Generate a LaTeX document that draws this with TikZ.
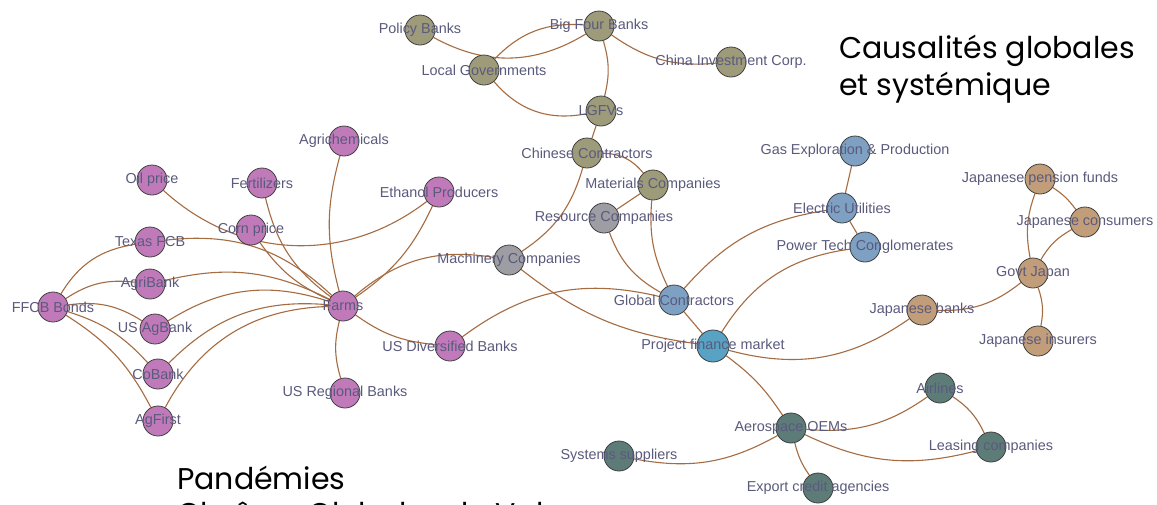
\documentclass[tikz,border=0pt]{standalone}
\usepackage{fontspec}
\newfontfamily\labelfont{Liberation Sans}
\newfontfamily\titlefont{Poppins}
\usetikzlibrary{backgrounds}
\definecolor{nwpurple}{RGB}{192,122,186}
\definecolor{nwolive}{RGB}{158,155,122}
\definecolor{nwgray}{RGB}{158,157,163}
\definecolor{nwsteel}{RGB}{126,160,195}
\definecolor{nwsky}{RGB}{88,163,196}
\definecolor{nwtan}{RGB}{194,157,122}
\definecolor{nwteal}{RGB}{93,124,120}
\definecolor{nwedge}{RGB}{165,108,66}
\definecolor{nwtext}{RGB}{90,90,125}
\tikzstyle{vertex} = [circle, draw=black!75, line width=0.8pt, minimum size=30pt, inner sep=0pt]
\tikzstyle{agri} = [vertex, fill=nwpurple]
\tikzstyle{china} = [vertex, fill=nwolive]
\tikzstyle{machine} = [vertex, fill=nwgray]
\tikzstyle{energy} = [vertex, fill=nwsteel]
\tikzstyle{japan} = [vertex, fill=nwtan]
\tikzstyle{aero} = [vertex, fill=nwteal]
\tikzstyle{link} = [draw=nwedge, line width=1.1pt]
\tikzstyle{heading} = [anchor=base west, inner sep=0pt, font=\titlefont\fontsize{30}{36}\selectfont]

\begin{document}
\begin{tikzpicture}[x=1pt, y=-1pt, every label/.style={text=nwtext, font=\labelfont\fontsize{14.4}{16}\selectfont}]
\useasboundingbox (0,0) rectangle (1157,504);
\clip (0,0) rectangle (1157,504);

% Nodes - China
\node (policy) [china, label=center:Policy Banks] at (420,30) {};
\node (bigfour) [china, label=center:Big Four Banks] at (599,26) {};
\node (localgov) [china, label=center:Local Governments] at (484,70) {};
\node (cic) [china, label=center:China Investment Corp.] at (731,62) {};
\node (lgfv) [china, label=center:LGFVs] at (601,111) {};
\node (chcontr) [china, label=center:Chinese Contractors] at (587,153) {};
\node (materials) [china, label=center:Materials Companies] at (653,185) {};
\node (resource) [machine, label=center:Resource Companies] at (604,218) {};
\node (machinery) [machine, label=center:Machinery Companies] at (509,260) {};

% Nodes - energy and project finance
\node (global) [energy, label=center:Global Contractors] at (674,300) {};
\node (projfin) [vertex, fill=nwsky, minimum size=32pt, label=center:Project finance market] at (713,346) {};
\node (gas) [energy, label=center:Gas Exploration \& Production] at (855,151) {};
\node (electric) [energy, label=center:Electric Utilities] at (842,208) {};
\node (powertech) [energy, label=center:Power Tech Conglomerates] at (865,247) {};

% Nodes - Japan
\node (pension) [japan, label=center:Japanese pension funds] at (1040,179) {};
\node (consumers) [japan, label=center:Japanese consumers] at (1085,222) {};
\node (govtjp) [japan, label=center:Govt Japan] at (1033,273) {};
\node (jpbanks) [japan, label=center:Japanese banks] at (922,310) {};
\node (insurers) [japan, label=center:Japanese insurers] at (1038,341) {};

% Nodes - aerospace
\node (airlines) [aero, label=center:Airlines] at (940,388) {};
\node (oems) [aero, label=center:Aerospace OEMs] at (791,428) {};
\node (leasing) [aero, label=center:Leasing companies] at (991,447) {};
\node (systems) [aero, label=center:Systems suppliers] at (619,456) {};
\node (export) [aero, label=center:Export credit agencies] at (818,488) {};

% Nodes - agriculture
\node (oil) [agri, label=center:Oil price] at (152,180) {};
\node (fert) [agri, label=center:Fertilizers] at (262,183) {};
\node (agrichem) [agri, label=center:Agrichemicals] at (344,141) {};
\node (ethanol) [agri, label=center:Ethanol Producers] at (439,192) {};
\node (corn) [agri, label=center:Corn price] at (251,230) {};
\node (texas) [agri, label=center:Texas FCB] at (150,242) {};
\node (agribank) [agri, label=center:AgriBank] at (150,284) {};
\node (ffcb) [agri, label=center:FFCB Bonds] at (53,307) {};
\node (usag) [agri, label=center:US AgBank] at (155,329) {};
\node (cobank) [agri, label=center:CoBank] at (158,374) {};
\node (agfirst) [agri, label=center:AgFirst] at (158,421) {};
\node (farms) [agri, label=center:Farms] at (343,306) {};
\node (usdiv) [agri, label=center:US Diversified Banks] at (450,346) {};
\node (usreg) [agri, label=center:US Regional Banks] at (345,393) {};

% Titles
\node (title1) [heading] at (839,58) {Causalités globales};
\node (title2) [heading] at (839,95) {et systémique};
\node (pand1) [heading] at (177,489) {Pandémies};
\node (pand2) [heading] at (177,524) {Chaînes Globales de Valeur};

% Links
\begin{scope}[on background layer]
\fill[white] (0,0) rectangle (1157,504);
\draw[link] (policy) to[bend right=30] (bigfour);
\draw[link] (localgov) to[bend left=25] (bigfour);
\draw[link] (localgov) to[bend right=30] (lgfv);
\draw[link] (bigfour) to[bend left=15] (lgfv);
\draw[link] (bigfour) to[bend right=20] (cic);
\draw[link] (lgfv) -- (chcontr);
\draw[link] (chcontr) to[bend left=25] (materials);
\draw[link] (chcontr) to[bend left=20] (machinery);
\draw[link] (materials) -- (resource);
\draw[link] (materials) to[bend right=15] (global);
\draw[link] (resource) to[bend right=20] (global);
\draw[link] (machinery) to[bend right=25] (farms);
\draw[link] (machinery) to[bend right=15] (projfin);
\draw[link] (usdiv) to[bend left=25] (global);
\draw[link] (global) to[bend left=20] (electric);
\draw[link] (global) -- (projfin);
\draw[link] (projfin) to[bend left=25] (powertech);
\draw[link] (projfin) to[bend right=25] (jpbanks);
\draw[link] (projfin) to[bend left=10] (oems);
\draw[link] (gas) -- (electric);
\draw[link] (electric) -- (powertech);
\draw[link] (jpbanks) to[bend right=20] (govtjp);
\draw[link] (govtjp) to[bend left=15] (pension);
\draw[link] (govtjp) to[bend left=15] (consumers);
\draw[link] (pension) to[bend left=10] (consumers);
\draw[link] (govtjp) to[bend left=15] (insurers);
\draw[link] (oems) to[bend right=20] (airlines);
\draw[link] (oems) to[bend right=20] (leasing);
\draw[link] (airlines) to[bend left=15] (leasing);
\draw[link] (oems) to[bend left=20] (systems);
\draw[link] (oems) to[bend right=10] (export);
\draw[link] (oil) to[bend right=40] (ethanol);
\draw[link] (fert) to[bend right=20] (farms);
\draw[link] (agrichem) to[bend right=15] (farms);
\draw[link] (ethanol) to[bend left=15] (farms);
\draw[link] (corn) to[bend right=15] (farms);
\draw[link] (texas) to[bend left=25] (farms);
\draw[link] (agribank) to[bend left=20] (farms);
\draw[link] (usag) to[bend left=25] (farms);
\draw[link] (cobank) to[bend left=25] (farms);
\draw[link] (agfirst) to[bend left=30] (farms);
\draw[link] (ffcb) to[bend left=25] (texas);
\draw[link] (ffcb) to[bend left=20] (agribank);
\draw[link] (ffcb) to[bend left=20] (usag);
\draw[link] (ffcb) to[bend left=15] (cobank);
\draw[link] (ffcb) to[bend left=15] (agfirst);
\draw[link] (farms) to[bend right=15] (usdiv);
\draw[link] (farms) to[bend right=15] (usreg);
\end{scope}
\end{tikzpicture}
\end{document}
